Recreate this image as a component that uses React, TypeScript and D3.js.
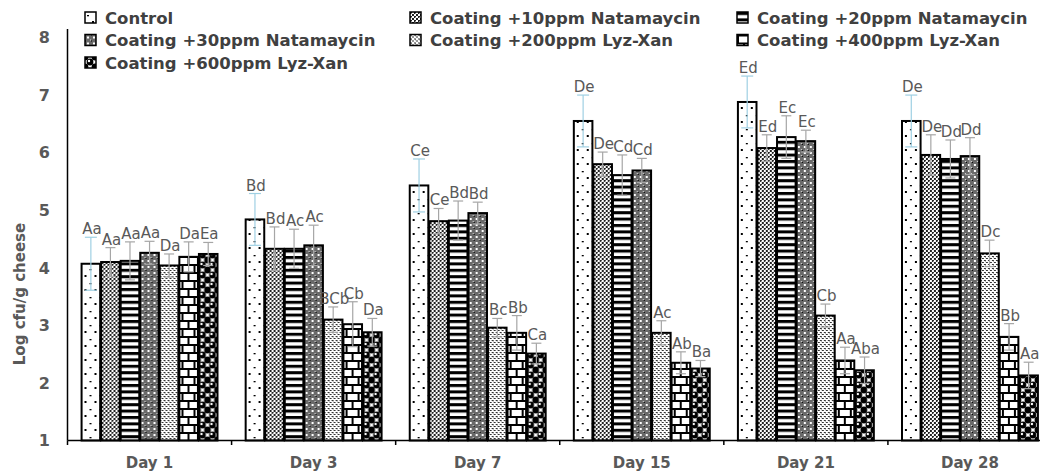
import * as d3 from "d3";

const days = ["Day 1", "Day 3", "Day 7", "Day 15", "Day 21", "Day 28"];

const seriesNames = [
  "Control",
  "Coating +10ppm Natamaycin",
  "Coating +20ppm Natamaycin",
  "Coating +30ppm Natamaycin",
  "Coating +200ppm Lyz-Xan",
  "Coating +400ppm Lyz-Xan",
  "Coating +600ppm Lyz-Xan",
];

// mean log cfu/g per day
const control = [4.07, 4.84, 5.43, 6.55, 6.88, 6.55];
const nata10 = [4.1, 4.33, 4.81, 5.8, 6.08, 5.96];
const nata20 = [4.12, 4.33, 4.82, 5.61, 6.27, 5.89];
const nata30 = [4.26, 4.39, 4.95, 5.69, 6.2, 5.94];
const lyz200 = [4.04, 3.1, 2.96, 2.87, 3.17, 4.25];
const lyz400 = [4.19, 3.02, 2.87, 2.35, 2.39, 2.8];
const lyz600 = [4.24, 2.88, 2.51, 2.25, 2.22, 2.13];

// error bars (+/-)
const controlErr = [0.46, 0.45, 0.46, 0.45, 0.45, 0.45];
const nata10Err = [0.25, 0.38, 0.22, 0.21, 0.23, 0.35];
const nata20Err = [0.33, 0.34, 0.34, 0.35, 0.37, 0.33];
const nata30Err = [0.2, 0.35, 0.19, 0.21, 0.19, 0.32];
const lyz200Err = [0.2, 0.22, 0.16, 0.21, 0.2, 0.23];
const lyz400Err = [0.26, 0.39, 0.3, 0.19, 0.23, 0.23];
const lyz600Err = [0.2, 0.24, 0.18, 0.14, 0.23, 0.23];

// significance letters
const controlLbl = ["Aa", "Bd", "Ce", "De", "Ed", "De"];
const nata10Lbl = ["Aa", "Bd", "Ce", "De", "Ed", "De"];
const nata20Lbl = ["Aa", "Ac", "Bd", "Cd", "Ec", "Dd"];
const nata30Lbl = ["Aa", "Ac", "Bd", "Cd", "Ec", "Dd"];
const lyz200Lbl = ["Da", "BCb", "Bc", "Ac", "Cb", "Dc"];
const lyz400Lbl = ["Da", "Cb", "Bb", "Ab", "Aa", "Bb"];
const lyz600Lbl = ["Ea", "Da", "Ca", "Ba", "Aba", "Aa"];

const yTicks = [1, 2, 3, 4, 5, 6, 7, 8];

const values = [control, nata10, nata20, nata30, lyz200, lyz400, lyz600];
const errors = [controlErr, nata10Err, nata20Err, nata30Err, lyz200Err, lyz400Err, lyz600Err];
const labels = [controlLbl, nata10Lbl, nata20Lbl, nata30Lbl, lyz200Lbl, lyz400Lbl, lyz600Lbl];

const patternIds = ["pDots", "pChecker", "pHStripe", "pGrid", "pLight", "pBrick", "pSphere"];

const W = 1040;
const H = 471;
const grey = "#595959";

function Patterns() {
  return (
    <defs>
      <pattern id="pDots" width="10" height="14" patternUnits="userSpaceOnUse">
        <rect width="10" height="14" fill="#fff" />
        <rect x="2" y="3" width="2" height="1.3" fill="#000" />
        <rect x="7" y="9" width="2" height="2" fill="#000" />
      </pattern>
      <pattern id="pChecker" width="4" height="4" patternUnits="userSpaceOnUse">
        <rect width="4" height="4" fill="#fff" />
        <rect x="0" y="0" width="2" height="2" fill="#222" />
        <rect x="2" y="2" width="2" height="2" fill="#222" />
        <rect x="1" y="1" width="1" height="1" fill="#999" />
      </pattern>
      <pattern id="pHStripe" width="10" height="6.4" patternUnits="userSpaceOnUse">
        <rect width="10" height="6.4" fill="#fff" />
        <rect y="0" width="10" height="3" fill="#000" />
      </pattern>
      <pattern id="pGrid" width="6" height="6" patternUnits="userSpaceOnUse">
        <rect width="6" height="6" fill="#6a6a6a" />
        <rect x="0" y="0" width="1" height="1" fill="#000" />
        <rect x="3" y="3" width="1" height="1" fill="#000" />
        <rect x="2" y="2" width="2" height="2" fill="#fff" />
        <rect x="5" y="5" width="1" height="1" fill="#ddd" />
      </pattern>
      <pattern id="pLight" width="4" height="4" patternUnits="userSpaceOnUse">
        <rect width="4" height="4" fill="#fff" />
        <rect x="0" y="0" width="2" height="1" fill="#333" />
        <rect x="2" y="2" width="2" height="1" fill="#333" />
        <rect x="1" y="1" width="1" height="1" fill="#aaa" />
      </pattern>
      <pattern id="pBrick" width="12" height="16" patternUnits="userSpaceOnUse">
        <rect width="12" height="16" fill="#fff" />
        <rect x="0" y="0" width="12" height="2" fill="#000" />
        <rect x="0" y="8" width="12" height="2" fill="#000" />
        <rect x="0" y="0" width="2" height="8" fill="#000" />
        <rect x="6" y="8" width="2" height="8" fill="#000" />
      </pattern>
      <pattern id="pSphere" width="10" height="10" patternUnits="userSpaceOnUse">
        <rect width="10" height="10" fill="#fff" />
        <circle cx="0" cy="0" r="3.4" fill="#000" />
        <circle cx="10" cy="0" r="3.4" fill="#000" />
        <circle cx="0" cy="10" r="3.4" fill="#000" />
        <circle cx="10" cy="10" r="3.4" fill="#000" />
        <circle cx="5" cy="5" r="3.4" fill="#000" />
        <circle cx="4" cy="4" r="1.2" fill="#fff" />
      </pattern>
    </defs>
  );
}

export default function App() {
  const margin = { left: 67.5, top: 37.5, bottom: 440.5 };

  const x0 = d3.scaleBand<string>().domain(days).range([margin.left, 1052]).padding(0);
  const x1 = d3
    .scaleBand<string>()
    .domain(seriesNames)
    .range([0, x0.bandwidth()])
    .paddingInner(0.05)
    .paddingOuter(0.72);
  const y = d3.scaleLinear().domain([1, 8]).range([margin.bottom, margin.top]);

  const boundaries = days.map((d) => x0(d) as number).concat([(x0(days[5]) as number) + x0.bandwidth()]);

  const legendCols = [85, 410, 737];
  const legendRows = [12, 34.5, 57];

  return (
    <svg
      width={W}
      height={H}
      style={{ position: "absolute", left: 0, top: 0, background: "#fff" }}
      fontFamily="DejaVu Sans, Verdana, sans-serif"
    >
      <Patterns />

      {/* bars */}
      {days.map((day, di) => (
        <g key={day} transform={`translate(${x0(day)},0)`}>
          {seriesNames.map((s, si) => {
            const v = values[si][di];
            const bx = x1(s) as number;
            return (
              <rect
                key={s}
                x={bx}
                y={y(v)}
                width={x1.bandwidth()}
                height={y(1) - y(v)}
                fill={`url(#${patternIds[si]})`}
                stroke="#000"
                strokeWidth={2}
              />
            );
          })}
          {/* error bars */}
          {seriesNames.map((s, si) => {
            const v = values[si][di];
            const e = errors[si][di];
            const cx = (x1(s) as number) + x1.bandwidth() / 2;
            const col = si === 0 ? "#9fd0e3" : "#a6a6a6";
            const cap = si === 0 ? 6 : 5;
            return (
              <g key={s} stroke={col} strokeWidth={1.2}>
                <line x1={cx} x2={cx} y1={y(v + e)} y2={y(v - e)} />
                <line x1={cx - cap} x2={cx + cap} y1={y(v + e)} y2={y(v + e)} />
                <line x1={cx - cap} x2={cx + cap} y1={y(v - e)} y2={y(v - e)} />
              </g>
            );
          })}
          {/* letters */}
          {seriesNames.map((s, si) => {
            const v = values[si][di];
            const e = errors[si][di];
            const cx = (x1(s) as number) + x1.bandwidth() / 2 + 1;
            return (
              <text
                key={s}
                x={cx}
                y={y(v + e) - 3}
                textAnchor="middle"
                fontSize={15}
                fill={grey}
              >
                {labels[si][di]}
              </text>
            );
          })}
        </g>
      ))}

      {/* y axis */}
      <line x1={margin.left} x2={margin.left} y1={29} y2={margin.bottom} stroke="#000" strokeWidth={1.5} />
      {yTicks.map((t) => (
        <text
          key={t}
          x={50}
          y={y(t)}
          dy="0.36em"
          textAnchor="end"
          fontSize={16}
          fontWeight="bold"
          fill={grey}
        >
          {t}
        </text>
      ))}
      <text
        transform={`translate(20,294) rotate(-90)`}
        textAnchor="middle"
        dy="0.35em"
        fontSize={15}
        fontWeight="bold"
        fill={grey}
      >
        Log cfu/g cheese
      </text>

      {/* x axis */}
      <line x1={margin.left} x2={W} y1={margin.bottom} y2={margin.bottom} stroke="#000" strokeWidth={1.5} />
      {boundaries.map((b, i) => (
        <line key={i} x1={b} x2={b} y1={margin.bottom} y2={margin.bottom + 4.5} stroke="#000" strokeWidth={1.5} />
      ))}
      {days.map((d) => (
        <text
          key={d}
          x={(x0(d) as number) + x0.bandwidth() / 2}
          y={468}
          textAnchor="middle"
          fontSize={15}
          fontWeight="bold"
          fill={grey}
        >
          {d}
        </text>
      ))}

      {/* legend */}
      {seriesNames.map((s, i) => {
        const lx = legendCols[i % 3];
        const ly = legendRows[Math.floor(i / 3)];
        return (
          <g key={s} transform={`translate(${lx},${ly})`}>
            <rect x={0} y={0} width={11} height={11} fill={`url(#${patternIds[i]})`} stroke="#000" strokeWidth={1.5} />
            <text x={20} y={11.5} fontSize={16.5} fontWeight="bold" fill="#404040">
              {s}
            </text>
          </g>
        );
      })}
    </svg>
  );
}
